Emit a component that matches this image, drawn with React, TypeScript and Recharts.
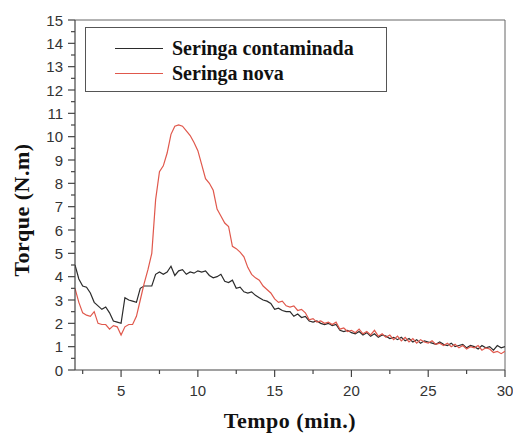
import { LineChart, Line, XAxis, YAxis, ReferenceLine } from 'recharts'

// time (min.)
const tempo = [
  2, 2.25, 2.5, 2.75, 3, 3.25, 3.5, 3.75, 4, 4.25, 4.5, 4.75,
  5, 5.25, 5.5, 5.75, 6, 6.25, 6.5, 6.75, 7, 7.25, 7.5, 7.75,
  8, 8.25, 8.5, 8.75, 9, 9.25, 9.5, 9.75, 10, 10.25, 10.5, 10.75,
  11, 11.25, 11.5, 11.75, 12, 12.25, 12.5, 12.75, 13, 13.25, 13.5, 13.75,
  14, 14.25, 14.5, 14.75, 15, 15.25, 15.5, 15.75, 16, 16.25, 16.5, 16.75,
  17, 17.25, 17.5, 17.75, 18, 18.25, 18.5, 18.75, 19, 19.25, 19.5, 19.75,
  20, 20.25, 20.5, 20.75, 21, 21.25, 21.5, 21.75, 22, 22.25, 22.5, 22.75,
  23, 23.25, 23.5, 23.75, 24, 24.25, 24.5, 24.75, 25, 25.25, 25.5, 25.75,
  26, 26.25, 26.5, 26.75, 27, 27.25, 27.5, 27.75, 28, 28.25, 28.5, 28.75,
  29, 29.25, 29.5, 29.75, 30,
]

// Seringa contaminada (N.m)
const contaminada = [
  4.5, 3.9, 3.6, 3.55, 3.3, 2.9, 2.75, 2.6, 2.7, 2.45, 2.1, 2.05,
  2.0, 3.1, 3.0, 2.95, 2.9, 3.5, 3.6, 3.6, 3.6, 4.1, 4.2, 4.1,
  4.2, 4.45, 4.05, 4.25, 4.3, 4.1, 4.2, 4.15, 4.25, 4.2, 4.25, 4.05,
  3.95, 4.0, 4.1, 3.8, 3.75, 3.85, 3.5, 3.55, 3.35, 3.3, 3.35, 3.2,
  3.1, 3.0, 2.95, 2.85, 2.6, 2.65, 2.55, 2.5, 2.5, 2.3, 2.4, 2.25,
  2.3, 2.1, 2.05, 2.1, 2.0, 1.95, 2.0, 1.9, 1.95, 1.7, 1.65, 1.7,
  1.6, 1.55, 1.65, 1.5, 1.6, 1.45, 1.55, 1.4, 1.5, 1.45, 1.35, 1.4,
  1.3, 1.4, 1.25, 1.35, 1.2, 1.3, 1.15, 1.25, 1.2, 1.15, 1.1, 1.2,
  1.1, 1.05, 1.15, 1.0, 1.05, 1.1, 0.95, 1.05, 1.0, 0.9, 1.05, 0.95,
  1.0, 0.85, 1.05, 0.95, 1.0,
]

// Seringa nova (N.m)
const nova = [
  3.5, 2.9, 2.45, 2.35, 2.3, 2.5, 2.0, 1.95, 1.95, 1.75, 1.9, 1.85,
  1.5, 1.85, 1.95, 1.95, 2.3, 3.0, 3.7, 4.3, 5.0, 7.3, 8.5, 8.75,
  9.3, 10.1, 10.45, 10.5, 10.45, 10.25, 10.05, 9.75, 9.4, 8.8, 8.2, 8.0,
  7.7, 6.9, 6.6, 6.3, 6.15, 5.3, 5.2, 5.05, 4.85, 4.4, 4.1, 3.95,
  3.85, 3.6, 3.45, 3.3, 3.05, 2.9, 2.95, 2.75, 2.7, 2.75, 2.55, 2.6,
  2.45, 2.15, 2.2, 2.05, 2.1, 2.0, 2.05, 1.95, 2.05, 1.75, 1.8, 1.65,
  1.7, 1.6, 1.75, 1.55, 1.65, 1.5, 1.7, 1.45, 1.55, 1.4, 1.5, 1.3,
  1.45, 1.25, 1.4, 1.2, 1.35, 1.15, 1.3, 1.2, 1.15, 1.25, 1.1, 1.15,
  1.05, 1.15, 1.0, 1.1, 0.95, 1.05, 0.9, 1.0, 0.95, 1.05, 0.85, 0.95,
  0.9, 0.75, 0.8, 0.7, 0.8,
]

const xTicks = [2.5, 5, 7.5, 10, 12.5, 15, 17.5, 20, 22.5, 25, 27.5, 30]
const yTicks = [
  0, 0.5, 1, 1.5, 2, 2.5, 3, 3.5, 4, 4.5, 5, 5.5, 6, 6.5, 7, 7.5,
  8, 8.5, 9, 9.5, 10, 10.5, 11, 11.5, 12, 12.5, 13, 13.5, 14, 14.5, 15,
]

const series = [
  { key: 'contaminada', name: 'Seringa contaminada', color: '#2b2b2b' },
  { key: 'nova', name: 'Seringa nova', color: '#e0584c' },
]

const data = tempo.map((t, i) => ({ t, contaminada: contaminada[i], nova: nova[i] }))

const axisColor = '#444'
const tickFont = { fontFamily: 'Liberation Sans, Arial, sans-serif', fontSize: 15, fill: '#333' }
const titleFont = {
  fontFamily: 'Liberation Serif, Times New Roman, serif',
  fontWeight: 'bold' as const,
  fontSize: 22,
  letterSpacing: 0.5,
  fill: '#111',
}

const XTick = ({ x, y, payload }: any) => {
  const major = payload.value % 5 === 0
  return (
    <g>
      <line x1={x} x2={x} y1={y} y2={y + (major ? 7 : 4)} stroke={axisColor} strokeWidth={1.2} />
      {major && (
        <text x={x} y={y + 20} textAnchor="middle" dominantBaseline="central" {...tickFont}>
          {payload.value}
        </text>
      )}
    </g>
  )
}

const YTick = ({ x, y, payload }: any) => {
  const major = Number.isInteger(payload.value)
  return (
    <g>
      <line x1={x - (major ? 7 : 4)} x2={x} y1={y} y2={y} stroke={axisColor} strokeWidth={1.2} />
      {major && (
        <text x={x - 12} y={y} textAnchor="end" dominantBaseline="central" {...tickFont}>
          {payload.value}
        </text>
      )}
    </g>
  )
}

function LegendBox() {
  return (
    <div
      style={{
        position: 'absolute',
        left: 85,
        top: 27,
        width: 300,
        height: 63,
        border: '1px solid #555',
        background: '#fff',
      }}
    >
      {series.map((s, i) => (
        <div
          key={s.key}
          style={{
            position: 'absolute',
            left: 29,
            top: 9 + i * 25,
            height: 22,
            display: 'flex',
            alignItems: 'center',
          }}
        >
          <span style={{ width: 48, height: 0, borderTop: `1px solid ${s.color}` }} />
          <span
            style={{
              marginLeft: 9,
              fontFamily: 'Liberation Serif, Times New Roman, serif',
              fontWeight: 'bold',
              fontSize: 20,
              color: '#111',
              lineHeight: '22px',
              whiteSpace: 'nowrap',
            }}
          >
            {s.name}
          </span>
        </div>
      ))}
    </div>
  )
}

export default function App() {
  return (
    <div style={{ position: 'absolute', left: 0, top: 0, width: 513, height: 433, background: '#fff' }}>
      <LineChart width={513} height={433} data={data} margin={{ top: 20, right: 8, bottom: 23, left: 15 }}>
        <XAxis
          dataKey="t"
          type="number"
          domain={[2, 30]}
          ticks={xTicks}
          interval={0}
          allowDataOverflow
          height={40}
          stroke={axisColor}
          strokeWidth={1.2}
          tickLine={false}
          tickSize={0}
          tickMargin={0}
          tick={<XTick />}
          label={() => (
            <text x={290} y={420} textAnchor="middle" dominantBaseline="central" {...titleFont}>
              Tempo (min.)
            </text>
          )}
        />
        <YAxis
          type="number"
          domain={[0, 15]}
          ticks={yTicks}
          interval={0}
          allowDataOverflow
          width={60}
          stroke={axisColor}
          strokeWidth={1.2}
          tickLine={false}
          tickSize={0}
          tickMargin={0}
          tick={<YTick />}
          label={() => (
            <text
              x={21}
              y={210}
              textAnchor="middle"
              dominantBaseline="central"
              transform="rotate(-90 21 210)"
              {...titleFont}
            >
              Torque (N.m)
            </text>
          )}
        />
        <ReferenceLine y={15} stroke="#666" strokeWidth={1} ifOverflow="visible" />
        <ReferenceLine x={30} stroke="#666" strokeWidth={1} ifOverflow="visible" />
        {series.map((s) => (
          <Line
            key={s.key}
            type="linear"
            dataKey={s.key}
            name={s.name}
            stroke={s.color}
            strokeWidth={1.2}
            dot={false}
            isAnimationActive={false}
          />
        ))}
      </LineChart>
      <LegendBox />
    </div>
  )
}
